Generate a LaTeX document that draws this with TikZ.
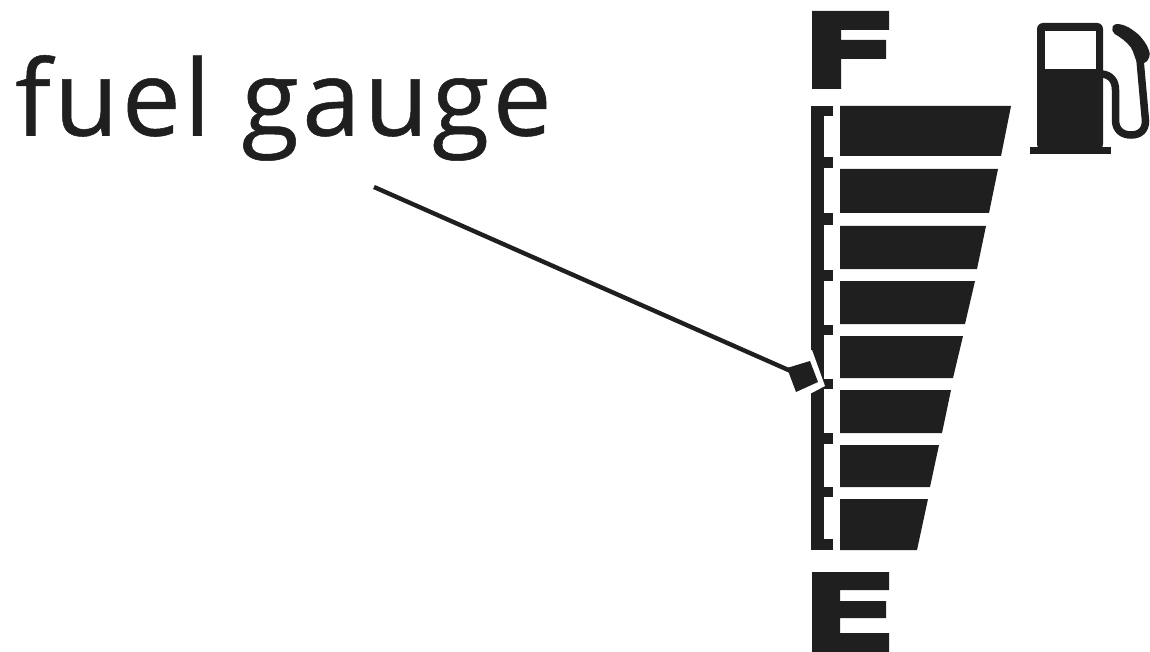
\documentclass[tikz,border=0pt]{standalone}
\usepackage{fontspec}
\setmainfont{Open Sans}
\newfontfamily\captionfont[LetterSpace=3.2,FakeBold=0.5]{Open Sans}
\definecolor{ink}{HTML}{1F1F1F}
\tikzset{
  solid ink/.style={fill=ink,draw=none},
  hose/.style={draw=ink,line width=7.5pt,line cap=butt},
  leader/.style={draw=ink,line width=4.4pt},
  cut/.style={fill=white,draw=none},
  caption/.style={text=ink,inner sep=0pt,anchor=base west,font=\captionfont\fontsize{105}{125}\selectfont}
}
\begin{document}
\begin{tikzpicture}[x=1pt,y=-1pt]
\useasboundingbox (0,0) rectangle (1150,652);
\clip (0,0) rectangle (1150,652);
\node[caption] (label) at (15,135.5) {fuel gauge};
% letters
\fill[solid ink] (812,11)--(889,11)--(889,30)--(841,30)--(841,40)--(886,40)--(886,59)--(841,59)--(841,89)--(812,89)--cycle;
\fill[solid ink] (812,572)--(889,572)--(889,590)--(840,590)--(840,601)--(886,601)--(886,618)--(840,618)--(840,633)--(889,633)--(889,652)--(812,652)--cycle;
% scale
\fill[solid ink] (811,106) rectangle (824,550);
\foreach \a/\b in {106/116,157/168,213/225,270/281,325/335,379/389,433/444,487/497,539/550}
  \fill[solid ink] (820,\a) rectangle (833,\b);
% bars
\foreach \t/\b/\r/\s in {106/156/1011/1001,169/213/998/989,226/269/986/977,281/324/975/965,336/378/963/953,390/433/951/942,445/487/939/930,499/550/928/917}
  \fill[solid ink] (840,\t)--(\r,\t)--(\s,\b)--(840,\b)--cycle;
% pointer
\fill[cut] (806,350)--(812,350)--(825,386)--(806,396)--cycle;
\coordinate (start) at (374,187);
\coordinate (tip) at (802,376);
\draw[leader] (start)--(tip);
\fill[solid ink] (810,361)--(818,382)--(796,392)--(787,368)--cycle;
% pump
\fill[solid ink,rounded corners=6pt] (1037,150)--(1037,23)--(1103,23)--(1103,150)--cycle;
\fill[solid ink] (1030,147) rectangle (1111,154);
\fill[white] (1045,31) rectangle (1096,69);
\draw[hose] (1102,74) .. controls (1111,75) and (1115.5,81) .. (1115.5,90) -- (1115.5,120) .. controls (1115.5,130) and (1122,135) .. (1131,135) .. controls (1140,135) and (1145.5,130) .. (1145.5,121) -- (1140,60);
\fill[solid ink,rounded corners=2pt] (1112,28) .. controls (1114,23) and (1123,23) .. (1134,31) .. controls (1142,37) and (1149,47) .. (1150,56) -- (1146,63) -- (1137,63) -- (1132,49) .. controls (1127,42) and (1120,37) .. (1113,33) -- cycle;
\end{tikzpicture}
\end{document}
